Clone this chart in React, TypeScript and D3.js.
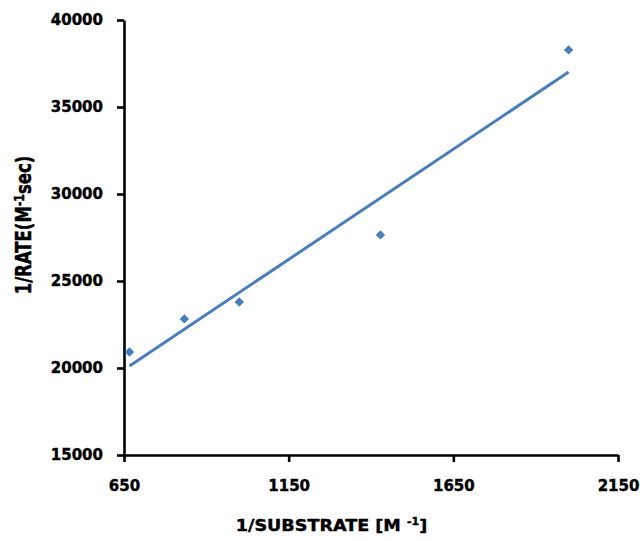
import React, { useEffect, useRef } from "react";
import * as d3 from "d3";

// 1/[S] values (M^-1) and 1/rate values (M^-1 sec)
const invSubstrate = [666.7, 833.3, 1000, 1428.6, 2000];
const invRate = [20920, 22820, 23790, 27650, 38280];

const xTicks = [650, 1150, 1650, 2150];
const yTicks = [15000, 20000, 25000, 30000, 35000, 40000];

const blue = "#4a7ebb";
const font = "'DejaVu Sans', sans-serif";

export default function App() {
  const svgRef = useRef<SVGSVGElement | null>(null);

  useEffect(() => {
    const width = 640;
    const height = 541;
    const margin = { top: 20, right: 22, bottom: 86, left: 124 };

    const svg = d3.select(svgRef.current);
    svg.selectAll("*").remove();
    svg.attr("width", width).attr("height", height);

    const x = d3.scaleLinear().domain([650, 2150]).range([margin.left, width - margin.right]);
    const y = d3.scaleLinear().domain([15000, 40000]).range([height - margin.bottom, margin.top]);

    const points = invSubstrate.map((v, i) => ({ x: v, y: invRate[i] }));

    // least squares trendline
    const mx = d3.mean(points, (d) => d.x) as number;
    const my = d3.mean(points, (d) => d.y) as number;
    const sxy = d3.sum(points, (d) => (d.x - mx) * (d.y - my));
    const sxx = d3.sum(points, (d) => (d.x - mx) ** 2);
    const slope = sxy / sxx;
    const icpt = my - slope * mx;
    const [x0, x1] = d3.extent(invSubstrate) as [number, number];
    const fit = [x0, x1].map((v) => ({ x: v, y: icpt + slope * v }));

    // axes
    const yAxis = d3.axisLeft(y).tickValues(yTicks).tickSize(7).tickSizeOuter(0).tickPadding(14).tickFormat(d3.format("d"));
    const xAxis = d3.axisBottom(x).tickValues(xTicks).tickSize(7).tickSizeOuter(0).tickPadding(18).tickFormat(d3.format("d"));

    const gy = svg.append("g").attr("transform", `translate(${margin.left},0)`).call(yAxis);
    const gx = svg.append("g").attr("transform", `translate(0,${height - margin.bottom})`).call(xAxis);

    [gx, gy].forEach((g) => {
      g.select(".domain").attr("stroke", "#000").attr("stroke-width", 2.6);
      g.selectAll(".tick line").attr("stroke", "#000").attr("stroke-width", 2.6);
      g.selectAll(".tick text")
        .attr("fill", "#000")
        .attr("stroke", "#000")
        .attr("stroke-width", 0.4)
        .style("font-family", font)
        .style("font-weight", "bold")
        .style("font-size", "15px");
    });

    // trendline
    svg.append("path")
      .datum(fit)
      .attr("fill", "none")
      .attr("stroke", blue)
      .attr("stroke-width", 3)
      .attr("d", d3.line<{ x: number; y: number }>().x((d) => x(d.x)).y((d) => y(d.y)));

    // data markers
    svg.selectAll(".pt")
      .data(points)
      .join("path")
      .attr("class", "pt")
      .attr("d", d3.symbol().type(d3.symbolDiamond2).size(56))
      .attr("transform", (d) => `translate(${x(d.x)},${y(d.y)})`)
      .attr("fill", blue);

    // x axis title
    const xt = svg.append("text")
      .attr("transform", `translate(${(238 + 425) / 2},531) scale(1.1,1)`)
      .attr("text-anchor", "middle")
      .attr("stroke", "#000")
      .attr("stroke-width", 0.4)
      .style("font-family", font)
      .style("font-weight", "bold")
      .style("font-size", "16px");
    xt.append("tspan").text("1/SUBSTRATE [M ");
    xt.append("tspan").attr("dy", -6).style("font-size", "10px").text("-1");
    xt.append("tspan").attr("dy", 6).text("]");

    // y axis title
    const yt = svg.append("text")
      .attr("transform", `translate(31,225) scale(1.25,1) rotate(-90)`)
      .attr("text-anchor", "middle")
      .attr("stroke", "#000")
      .attr("stroke-width", 0.4)
      .style("font-family", font)
      .style("font-weight", "bold")
      .style("font-size", "16.5px");
    yt.append("tspan").text("1/RATE(M");
    yt.append("tspan").attr("dy", -6).style("font-size", "11px").text("-1");
    yt.append("tspan").attr("dy", 6).text("sec)");
  }, []);

  return (
    <div style={{ position: "absolute", left: 0, top: 0, width: 640, height: 541, background: "#fff" }}>
      <svg ref={svgRef}></svg>
    </div>
  );
}
